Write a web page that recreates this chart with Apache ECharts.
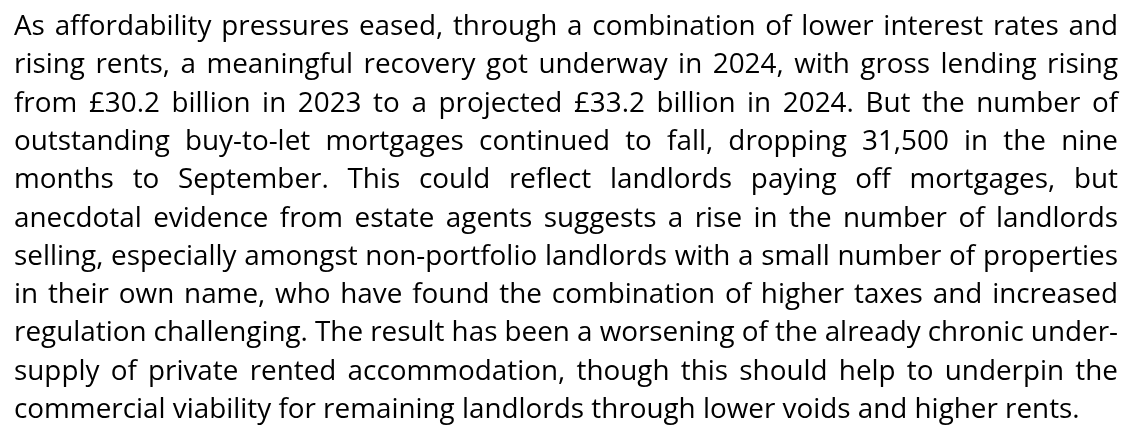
<!DOCTYPE html>
<html>
<head>
<meta charset="utf-8">
<script src="https://cdn.jsdelivr.net/npm/echarts@6/dist/echarts.min.js"></script>
<style>
  html, body { margin: 0; padding: 0; background: #fff; }
  #chart { width: 1132px; height: 432px; }
</style>
</head>
<body>
<div id="chart"></div>
<script>
// paragraph lines as they break in the source
var lines = [
  'As affordability pressures eased, through a combination of lower interest rates and',
  'rising rents, a meaningful recovery got underway in 2024, with gross lending rising',
  'from £30.2 billion in 2023 to a projected £33.2 billion in 2024. But the number of',
  'outstanding buy-to-let mortgages continued to fall, dropping 31,500 in the nine',
  'months to September. This could reflect landlords paying off mortgages, but',
  'anecdotal evidence from estate agents suggests a rise in the number of landlords',
  'selling, especially amongst non-portfolio landlords with a small number of properties',
  'in their own name, who have found the combination of higher taxes and increased',
  'regulation challenging. The result has been a worsening of the already chronic under-',
  'supply of private rented accommodation, though this should help to underpin the',
  'commercial viability for remaining landlords through lower voids and higher rents.'
];

var fontFamily = '"Open Sans"';
var left = 14;
var right = 1118;
var firstBaseline = 36;
var lineGap = 38.3;
var lastLineWidth = 1066;

var ctx = document.createElement('canvas').getContext('2d');
function measure (txt, size) {
  ctx.font = size + 'px ' + fontFamily;
  return ctx.measureText(txt).width;
}

// size the font so the unjustified last line ends where it does in the source
var fontSize = 100 * lastLineWidth / measure(lines[lines.length - 1], 100);

var elements = [];
lines.forEach(function (line, i) {
  var y = firstBaseline + i * lineGap - 0.32 * fontSize;
  var words = line.split(' ');
  var widths = words.map(function (w) { return measure(w, fontSize); });
  var total = widths.reduce(function (a, b) { return a + b; }, 0);
  // justify every line but the last
  var gap = i === lines.length - 1
    ? measure(' ', fontSize)
    : (right - left - total) / (words.length - 1);
  var x = left;
  words.forEach(function (w, j) {
    elements.push({
      type: 'text',
      x: x,
      y: y,
      style: {
        text: w,
        fill: '#000',
        font: fontSize + 'px ' + fontFamily,
        lineHeight: fontSize,
        align: 'left',
        verticalAlign: 'middle'
      }
    });
    x += widths[j] + gap;
  });
});

var chart = echarts.init(document.getElementById('chart'));
chart.setOption({
  backgroundColor: '#fff',
  animation: false,
  graphic: { elements: elements }
});
</script>
</body>
</html>
